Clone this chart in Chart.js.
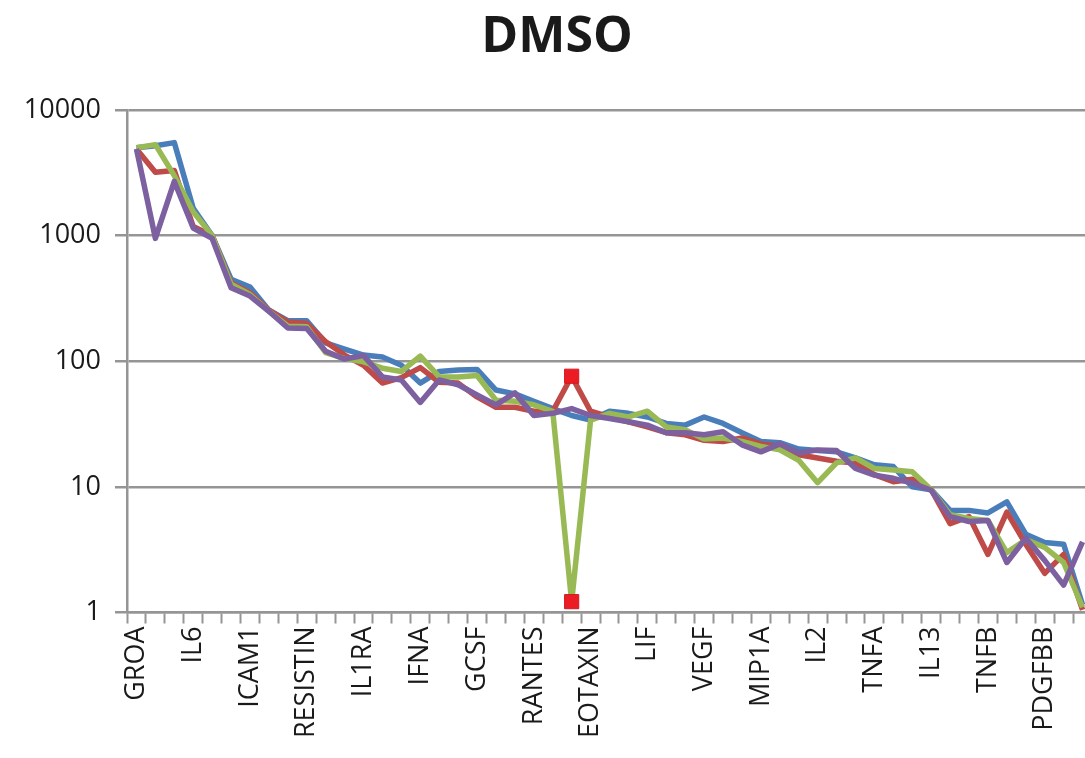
<!DOCTYPE html>
<html>
<head>
<meta charset="utf-8">
<title>DMSO</title>
<script src="https://cdn.jsdelivr.net/npm/chart.js@4.4.1/dist/chart.umd.min.js"></script>
<style>
    html, body {
        margin: 0;
        padding: 0;
        background: #ffffff;
        overflow: hidden;
    }
    #chartBox {
        width: 1092px;
        height: 758px;
    }
</style>
</head>
<body>
<div id="chartBox"><canvas id="dmsoChart"></canvas></div>
<script>
// Category labels shown on the axis (every third cytokine carries a name)
const shownLabels = ['GROA', 'IL6', 'ICAM1', 'RESISTIN', 'IL1RA', 'IFNA', 'GCSF', 'RANTES',
    'EOTAXIN', 'LIF', 'VEGF', 'MIP1A', 'IL2', 'TNFA', 'IL13', 'TNFB', 'PDGFBB'];
const categoryCount = 51;

// Series values (log scale)
const blueValues = [5000, 5200, 5500, 1650, 1000, 450, 390, 255, 210, 210,
    140, 125, 112, 108, 93, 67, 83, 85, 86, 59,
    55, 48, 42, 37, 34, 40, 38.5, 36, 32, 31,
    36, 32, 27, 23, 22.5, 20, 19.5, 19, 17, 15,
    14.5, 10, 9.5, 6.5, 6.5, 6.2, 7.6, 4.2, 3.6, 3.5, 1.15];
const redValues = [4900, 3200, 3300, 1180, 1000, 420, 350, 255, 205, 200,
    143, 112, 93, 67, 74, 89, 68, 67, 52, 43,
    43, 40, 40, 76, 40, 36, 33, 30, 27, 26,
    23.5, 23, 24.5, 22, 21, 18, 17, 16, 15.5, 12.5,
    11, 11.5, 9.5, 5.1, 5.8, 2.9, 6.3, 3.5, 2.05, 2.9, 1.05];
const greenValues = [5000, 5300, 3000, 1550, 1000, 410, 340, 250, 190, 188,
    117, 105, 99, 88, 83, 110, 75, 75, 77, 49,
    48, 45, 40, 1.22, 34, 38.5, 36, 40, 30, 28.5,
    24, 24.5, 23, 21, 19.7, 16.3, 10.8, 15.5, 17, 14,
    13.6, 13.2, 9.5, 6, 5.6, 5.4, 3, 3.8, 3.3, 2.5, 1.1];
const purpleValues = [4900, 950, 2700, 1150, 950, 385, 330, 250, 184, 182,
    120, 104, 111, 75, 71, 47, 71, 65, 54, 45,
    56, 37, 38.5, 42, 37, 35, 33, 31, 27, 27,
    26, 27.5, 21.6, 19, 22, 18.6, 19.7, 19.5, 14, 12.4,
    11.7, 10.7, 9.4, 5.8, 5.3, 5.4, 2.5, 3.9, 2.6, 1.65, 3.65];

// Category with the highlighted outliers (red squares)
const flaggedIndex = 23;

// Y axis tick values
const yTicks = [1, 10, 100, 1000, 10000];

// Build full category list from the visible names
const categories = [];
for (let i = 0; i < categoryCount; i++) {
    categories.push(i % 3 === 0 ? shownLabels[i / 3] : '');
}

const axisFont = { family: '"Open Sans", sans-serif', size: 27 };
const gridColor = '#959595';

// Title drawn by hand so it sits where the original puts it
const titlePlugin = {
    id: 'dmsoTitle',
    afterDraw(chart) {
        const ctx = chart.ctx;
        ctx.save();
        ctx.font = 'bold 50px "Open Sans", sans-serif';
        ctx.fillStyle = '#1a1a1a';
        ctx.textAlign = 'center';
        ctx.textBaseline = 'alphabetic';
        ctx.fillText('DMSO', 557, 52);
        ctx.restore();
    }
};

function markerRadius(ctx) {
    return ctx.dataIndex === flaggedIndex ? 10 : 0;
}

function makeSeries(label, values, color, order, flagged) {
    return {
        label: label,
        data: values,
        borderColor: color,
        backgroundColor: color,
        borderWidth: 5.5,
        borderJoinStyle: 'round',
        tension: 0,
        order: order,
        pointStyle: 'rect',
        pointRadius: flagged ? markerRadius : 0,
        pointHoverRadius: flagged ? markerRadius : 0,
        pointBackgroundColor: '#ec1c24',
        pointBorderColor: '#d01a1f',
        pointBorderWidth: 1
    };
}

new Chart(document.getElementById('dmsoChart'), {
    type: 'line',
    data: {
        labels: categories,
        datasets: [
            makeSeries('Series 1', blueValues, '#4a7ebb', 4, false),
            makeSeries('Series 2', redValues, '#be4b48', 3, true),
            makeSeries('Series 3', greenValues, '#98b954', 2, true),
            makeSeries('Series 4', purpleValues, '#7d60a0', 1, false)
        ]
    },
    options: {
        responsive: true,
        maintainAspectRatio: false,
        animation: false,
        layout: {
            padding: { top: 110, right: 0, left: 0, bottom: 0 }
        },
        plugins: {
            legend: { display: false },
            title: { display: false },
            tooltip: { enabled: false }
        },
        scales: {
            x: {
                type: 'category',
                offset: true,
                afterFit: scale => {
                    scale.height = 145.5;
                    scale.paddingLeft = 0;
                    scale.paddingRight = 0;
                },
                grid: {
                    offset: true,
                    drawOnChartArea: false,
                    drawTicks: true,
                    tickLength: 11,
                    tickWidth: 2,
                    tickColor: gridColor
                },
                border: { color: gridColor, width: 2.5 },
                ticks: {
                    autoSkip: false,
                    minRotation: 90,
                    maxRotation: 90,
                    padding: 3,
                    color: '#1a1a1a',
                    font: axisFont
                }
            },
            y: {
                type: 'logarithmic',
                min: 1,
                max: 10000,
                afterFit: scale => { scale.width = 127; },
                afterBuildTicks: scale => {
                    scale.ticks = yTicks.map(v => ({ value: v }));
                },
                grid: {
                    color: gridColor,
                    lineWidth: 2.5,
                    tickLength: 12,
                    tickColor: gridColor
                },
                border: { color: gridColor, width: 2.5 },
                ticks: {
                    padding: 14,
                    color: '#1a1a1a',
                    font: axisFont,
                    callback: value => String(value)
                }
            }
        }
    },
    plugins: [titlePlugin]
});
</script>
</body>
</html>
